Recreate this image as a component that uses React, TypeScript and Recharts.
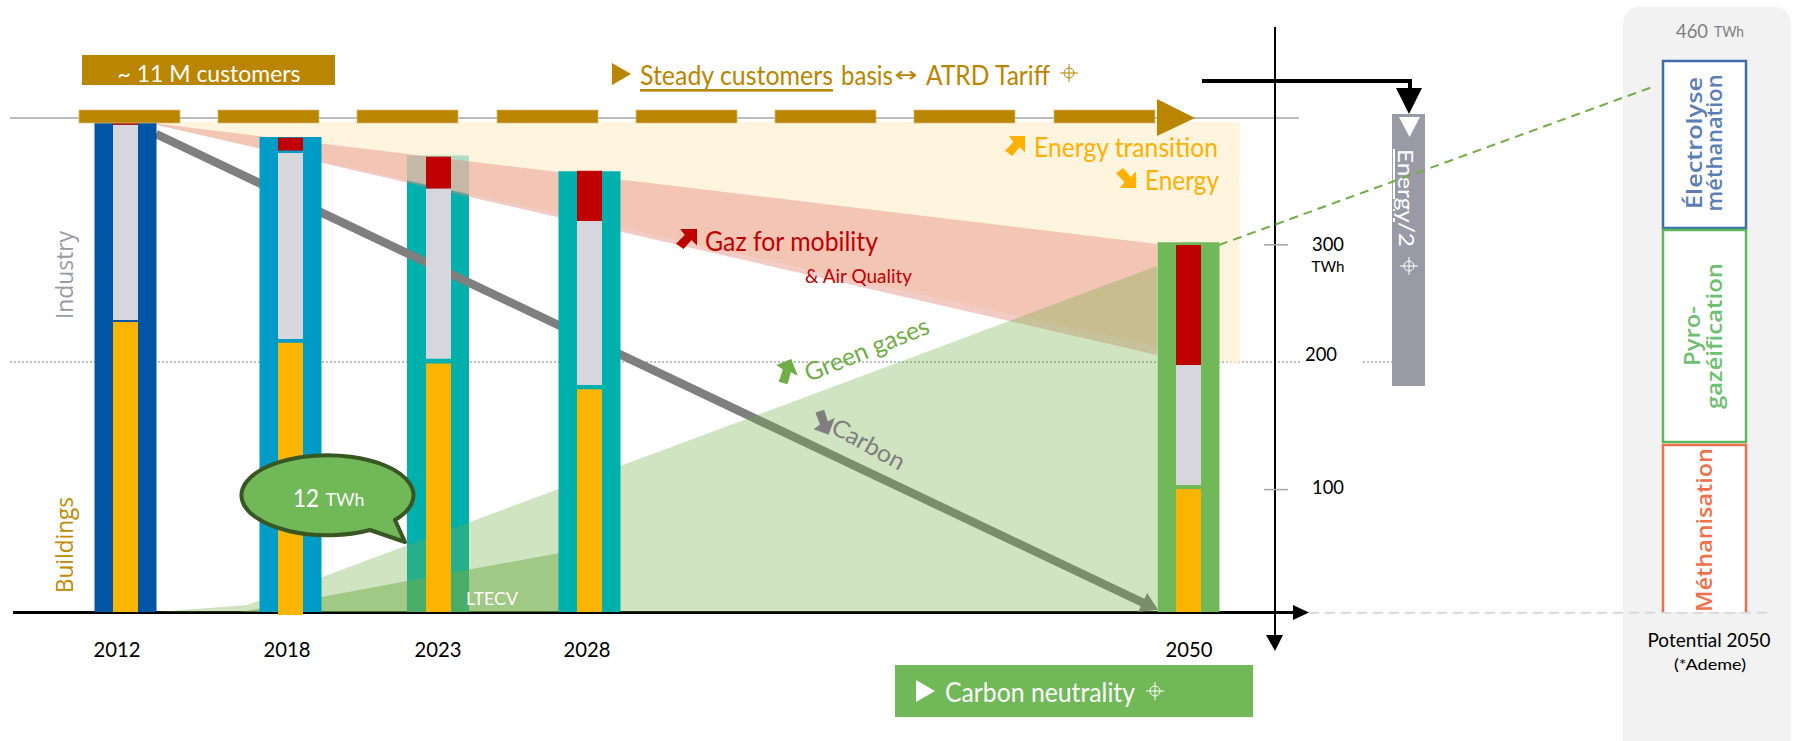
import React from "react";
import { ComposedChart, Bar, Area, Line, XAxis, YAxis, Cell } from "recharts";

// ---------- data (TWh) ----------
const years = [2012, 2018, 2023, 2028, 2050];
const outerTotal = [400, 388, 373, 360, 302];
const buildings = [237, 220, 203, 182, 100.5];
const lowGap = [1.6, 3, 4, 3.5, 3.3];
const industry = [159.5, 152, 139, 134, 98];
const highGap = [0, 2, 0, 0, 0];
const mobility = [2, 10.5, 26, 41, 98];
const overshoot = [0, -2.5, 0, 0, 0];

const creamYears = [2013.13, 2051.9];
const creamLow = [398, 202];
const creamHigh = [400.3, 400.3];

const salmonYears = [2013.13, 2048.86];
const salmonLow = [398, 210];
const salmonHigh = [399, 300.6];

const greenYears = [2013.13, 2016.44, 2048.86];
const greenHigh = [0, 5.7, 282.7];

const ltecvYears = [2016.18, 2027.3];
const ltecvHigh = [0, 49.5];

const carbonYears = [2013.13, 2048.6];
const carbonValues = [390.5, 4.9];

const yTicks = [100, 200, 300];

// ---------- colours ----------
const GOLD = "#BA8500";
const outerColors = ["#0055A4", "#009CC8", "#00B0AD", "#00B0AD", "#70B858"];
const GREEN = "#70AD47";
const BOX_GREEN = "#70B858";

// ---------- tables ----------
const barRows = years.map((year, i) => ({
  year,
  outer: outerTotal[i],
  buildings: buildings[i],
  lowGap: lowGap[i],
  industry: industry[i],
  highGap: highGap[i],
  mobility: mobility[i],
  overshoot: overshoot[i],
}));
const creamRows = creamYears.map((year, i) => ({ year, band: [creamLow[i], creamHigh[i]] }));
const salmonRows = salmonYears.map((year, i) => ({ year, band: [salmonLow[i], salmonHigh[i]] }));
const greenRows = greenYears.map((year, i) => ({ year, band: [0, greenHigh[i]] }));
const ltecvRows = ltecvYears.map((year, i) => ({ year, band: [0, ltecvHigh[i]] }));
const carbonRows = carbonYears.map((year, i) => ({ year, carbon: carbonValues[i] }));

// The years are not evenly spaced on the source's axis: piecewise scale.
const knotYears = [2012, 2018, 2023, 2028, 2050];
const knotPixels = [125, 290, 438, 589, 1188];
function yearScale(): any {
  let d: number[] = [2008, 2055];
  let r: number[] = [0, 1275];
  const f: any = (v: number) => {
    let i = 0;
    while (i < knotYears.length - 2 && v > knotYears[i + 1]) i++;
    const t = (v - knotYears[i]) / (knotYears[i + 1] - knotYears[i]);
    return knotPixels[i] + t * (knotPixels[i + 1] - knotPixels[i]);
  };
  f.domain = (x?: number[]) => {
    if (x) {
      d = x;
      return f;
    }
    return d;
  };
  f.range = (x?: number[]) => {
    if (x) {
      r = x;
      return f;
    }
    return r;
  };
  f.copy = () => yearScale();
  f.ticks = () => years;
  return f;
}

const FONT = "Lato, 'Open Sans', sans-serif";
const xNudge: Record<number, number> = { 2012: -8, 2018: -3, 2023: 0, 2028: -2, 2050: 1 };
const yNudge: Record<number, number> = { 300: -2, 200: -14, 100: -4 };

const XTick = (p: any) => (
  <text
    x={p.x + (xNudge[p.payload.value] || 0)}
    y={p.y + 24.5}
    textAnchor="middle"
    dominantBaseline="central"
    fontFamily={FONT}
    fontSize={21}
    fill="#000"
    textLength={47}
    lengthAdjust="spacingAndGlyphs"
  >
    {p.payload.value}
  </text>
);

const YTick = (p: any) => {
  const v = p.payload.value;
  const lab = v === 200 ? 46 : 53;
  return (
    <g>
      {v !== 200 && <line x1={p.x - 11} x2={p.x + 13} y1={p.y} y2={p.y} stroke="#A6A6A6" strokeWidth={1.5} />}
      <text
        x={p.x + lab}
        y={p.y + yNudge[v]}
        textAnchor="middle"
        dominantBaseline="central"
        fontFamily={FONT}
        fontSize={20}
        fill="#000"
        textLength={32}
        lengthAdjust="spacingAndGlyphs"
      >
        {v}
      </text>
      {v === 300 && (
        <text
          x={p.x + 53}
          y={p.y + 21}
          textAnchor="middle"
          dominantBaseline="central"
          fontFamily={FONT}
          fontSize={16}
          fill="#000"
          textLength={33}
          lengthAdjust="spacingAndGlyphs"
        >
          TWh
        </text>
      )}
    </g>
  );
};

const Layer = ({ data, axes, children }: any) => (
  <div style={{ position: "absolute", left: 0, top: 0 }}>
    <ComposedChart
      width={1798}
      height={741}
      data={data}
      margin={{ top: 0, right: 0, bottom: 0, left: 0 }}
      stackOffset="sign"
    >
      <XAxis
        xAxisId={0}
        type="number"
        dataKey="year"
        domain={[2008, 2055]}
        scale={yearScale()}
        ticks={years}
        interval={0}
        height={116.76}
        axisLine={false}
        tickLine={false}
        tickSize={0}
        tickMargin={0}
        tick={axes ? XTick : false}
      />
      <YAxis
        yAxisId={0}
        type="number"
        orientation="right"
        domain={[-10, 500]}
        ticks={yTicks}
        interval={0}
        width={523}
        axisLine={false}
        tickLine={false}
        tickSize={0}
        tickMargin={0}
        tick={axes ? YTick : false}
      />
      {children}
    </ComposedChart>
  </div>
);

const CarbonHead = (p: any) => {
  if (p.index !== 1) return <g key={p.index} />;
  const u = [0.903, 0.429];
  const n = [-0.429, 0.903];
  const tip = [p.cx + 9 * u[0], p.cy + 9 * u[1]];
  const bx = p.cx - 8 * u[0];
  const by = p.cy - 8 * u[1];
  const pts = [tip, [bx + 10.5 * n[0], by + 10.5 * n[1]], [bx - 10.5 * n[0], by - 10.5 * n[1]]];
  return <polygon key={p.index} points={pts.map((q) => q.join(",")).join(" ")} fill="#7F7F7F" />;
};

// ---------- annotation helpers ----------
const T = ({ x, y, size, fill, anchor = "middle", rotate, len, family = FONT, weight, underline, children }: any) => (
  <text
    x={x}
    y={y}
    fontSize={size}
    fill={fill}
    textAnchor={anchor}
    dominantBaseline="central"
    fontFamily={family}
    fontWeight={weight}
    textDecoration={underline ? "underline" : undefined}
    transform={rotate ? `rotate(${rotate} ${x} ${y})` : undefined}
    textLength={len}
    lengthAdjust={len ? "spacingAndGlyphs" : undefined}
  >
    {children}
  </text>
);

const Cross = ({ x, y, color, r = 5 }: any) => (
  <g stroke={color} strokeWidth={1} fill="none">
    <circle cx={x} cy={y} r={r} />
    <line x1={x - r - 4} x2={x + r + 4} y1={y} y2={y} />
    <line x1={x} x2={x} y1={y - r - 4} y2={y + r + 4} />
  </g>
);

const upRight = [
  [0.2, 0],
  [1, 0],
  [1, 0.82],
  [0.74, 0.55],
  [0.36, 1],
  [0, 0.74],
  [0.42, 0.3],
];
const Icon = ({ x, y, w, h, fill, flip, rotate }: any) => {
  const pts = upRight.map(([a, b]) => `${x + a * w},${y + (flip ? 1 - b : b) * h}`).join(" ");
  return (
    <polygon
      points={pts}
      fill={fill}
      transform={rotate ? `rotate(${rotate} ${x + w / 2} ${y + h / 2})` : undefined}
    />
  );
};

const Svg = ({ children }: any) => (
  <svg width={1798} height={741} style={{ position: "absolute", left: 0, top: 0, pointerEvents: "none" }}>
    {children}
  </svg>
);

const dashStarts = [79, 218, 357, 497, 636, 775, 914, 1054];

export default function App() {
  return (
    <div style={{ position: "absolute", left: 0, top: 0, width: 1798, height: 741, overflow: "hidden", background: "#fff" }}>
      {/* under everything */}
      <Svg>
        <rect x={1623} y={7} width={168} height={760} rx={16} fill="#F2F2F2" />
        <line x1={1309} x2={1768} y1={612.7} y2={612.7} stroke="#D9D9D9" strokeWidth={2} strokeDasharray="10 6" />
        <line x1={10} x2={1299} y1={118} y2={118} stroke="#A6A6A6" strokeWidth={1.5} />
        <line x1={10} x2={1300} y1={362} y2={362} stroke="#7F7F7F" strokeWidth={1} strokeDasharray="2 2" />
        <line x1={1363} x2={1392} y1={362} y2={362} stroke="#7F7F7F" strokeWidth={1} strokeDasharray="2 2" />
        <line x1={13} x2={1295} y1={612.5} y2={612.5} stroke="#000" strokeWidth={3} />
        <polygon points="1293,605 1309,612.5 1293,620" fill="#000" />
        <line x1={1275} x2={1275} y1={27} y2={640} stroke="#000" strokeWidth={2} />
        <polygon points="1266,635 1283,635 1275,651" fill="#000" />
      </Svg>

      {/* 2023 column sits behind the wedges */}
      <Layer data={barRows.filter((r) => r.year === 2023)} axes>
        <Bar dataKey="outer" barSize={62} fill="#00B0AD" isAnimationActive={false} />
      </Layer>
      <Layer data={creamRows}>
        <Area dataKey="band" type="linear" stroke="none" fill="#FFEFCF" fillOpacity={0.69} isAnimationActive={false} dot={false} activeDot={false} />
      </Layer>
      <Layer data={salmonRows}>
        <Area dataKey="band" type="linear" stroke="none" fill="#E28C81" fillOpacity={0.45} isAnimationActive={false} dot={false} activeDot={false} />
      </Layer>
      <Layer data={carbonRows}>
        <Line dataKey="carbon" type="linear" stroke="#7F7F7F" strokeWidth={8.5} dot={CarbonHead} activeDot={false} isAnimationActive={false} />
      </Layer>
      <Layer data={greenRows}>
        <Area dataKey="band" type="linear" stroke="none" fill={GREEN} fillOpacity={0.33} isAnimationActive={false} dot={false} activeDot={false} />
      </Layer>
      <Layer data={ltecvRows}>
        <Area dataKey="band" type="linear" stroke="none" fill={GREEN} fillOpacity={0.5} isAnimationActive={false} dot={false} activeDot={false} />
      </Layer>

      {/* the other columns */}
      <Layer data={barRows.filter((r) => r.year !== 2023)}>
        <Bar dataKey="outer" barSize={62} isAnimationActive={false}>
          {years
            .filter((y) => y !== 2023)
            .map((y) => (
              <Cell key={y} fill={outerColors[years.indexOf(y)]} />
            ))}
        </Bar>
      </Layer>
      <Layer data={barRows}>
        <Bar dataKey="overshoot" stackId="s" barSize={25} fill="#FBB400" isAnimationActive={false} />
        <Bar dataKey="buildings" stackId="s" barSize={25} fill="#FBB400" isAnimationActive={false} />
        <Bar dataKey="lowGap" stackId="s" barSize={25} fill="transparent" isAnimationActive={false} />
        <Bar dataKey="industry" stackId="s" barSize={25} fill="#D6D6DC" isAnimationActive={false} />
        <Bar dataKey="highGap" stackId="s" barSize={25} fill="transparent" isAnimationActive={false} />
        <Bar dataKey="mobility" stackId="s" barSize={25} fill="#C00000" isAnimationActive={false} />
      </Layer>

      {/* annotations */}
      <Svg>
        {/* gold dashed line and head */}
        {dashStarts.map((x) => (
          <rect key={x} x={x} y={110} width={101} height={13} fill={GOLD} stroke="#D8BC78" strokeWidth={0.7} />
        ))}
        <polygon points="1157,99 1195,118 1157,136" fill={GOLD} />

        {/* customers */}
        <rect x={82} y={55} width={253} height={30} fill={GOLD} />
        <T x={209} y={72} size={24} fill="#fff" len={183}>~ 11 M customers</T>

        <polygon points="612,63 631,74 612,85" fill={GOLD} />
        <T x={640} y={75} size={26} fill={GOLD} anchor="start" len={193} underline>Steady customers</T>
        <T x={841} y={75} size={26} fill={GOLD} anchor="start" len={52}>basis</T>
        <T x={906} y={75} size={21} fill={GOLD} family="'DejaVu Sans'" len={23}>↔</T>
        <T x={926} y={75} size={26} fill={GOLD} anchor="start" len={124}>ATRD Tariff</T>
        <Cross x={1069} y={73} color={GOLD} />

        {/* wedge captions */}
        <Icon x={1005} y={136} w={20} h={20} fill="#FFB000" />
        <T x={1034} y={147} size={26} fill="#FFB000" anchor="start" len={184}>Energy transition</T>
        <Icon x={1116} y={168} w={20} h={20} fill="#FFB000" flip />
        <T x={1145} y={180} size={26} fill="#FFB000" anchor="start" len={74}>Energy</T>

        <Icon x={676} y={229} w={21} h={20} fill="#C00000" />
        <T x={705} y={241} size={26} fill="#C00000" anchor="start" len={173}>Gaz for mobility</T>
        <T x={805} y={275} size={19} fill="#C00000" anchor="start" len={107}>&amp; Air Quality</T>

        <Icon x={776} y={362} w={20} h={22} fill={GREEN} rotate={-22} />
        <T x={805} y={373} size={25} fill={GREEN} anchor="start" rotate={-22} len={132}>Green gases</T>
        <Icon x={813} y={410} w={20} h={22} fill="#7F7F7F" flip rotate={20} />
        <T x={834} y={424} size={24} fill="#7F7F7F" anchor="start" rotate={29} len={80}>Carbon</T>

        {/* side captions */}
        <T x={64} y={275} size={23} fill="#9999A5" rotate={-90} len={88} family="'Open Sans'">Industry</T>
        <T x={64} y={545} size={23} fill="#C08A00" rotate={-90} len={96} family="'Open Sans'">Buildings</T>
        <T x={492} y={598} size={18} fill="#fff" len={52}>LTECV</T>

        {/* bubble */}
        <path
          d="M370,530 L405,542 L395,520 A86 40 0 1 0 370,530 Z"
          fill={BOX_GREEN}
          stroke="#385723"
          strokeWidth={4}
          strokeLinejoin="round"
        />
        <T x={306} y={497} size={25} fill="#fff" len={26}>12</T>
        <T x={345} y={499} size={18} fill="#fff" len={39}>TWh</T>

        {/* carbon neutrality */}
        <rect x={895} y={665} width={358} height={52} fill={BOX_GREEN} />
        <polygon points="916,680 935,691 916,702" fill="#fff" />
        <T x={945} y={692} size={26} fill="#fff" anchor="start" len={190}>Carbon neutrality</T>
        <Cross x={1155} y={691} color="#fff" />

        {/* energy / 2 */}
        <rect x={1392} y={114} width={33} height={272} fill="#9A9AA6" />
        <polygon points="1399,117 1420,117 1409.5,137" fill="#fff" />
        <text
          x={1407}
          y={149}
          fontFamily={FONT}
          fontSize={21}
          fill="#fff"
          dominantBaseline="central"
          transform="rotate(90 1407 149)"
          textLength={98}
          lengthAdjust="spacingAndGlyphs"
        >
          <tspan textDecoration="underline">Energy</tspan>/2
        </text>
        <Cross x={1409} y={266} color="#fff" />
        <path d="M1202,81 H1410 V92" fill="none" stroke="#000" strokeWidth={4} />
        <polygon points="1396,88 1422,88 1409,114" fill="#000" />

        {/* potential panel */}
        <T x={1692} y={30} size={20} fill="#7F7F7F" len={32}>460</T>
        <T x={1729} y={31} size={15} fill="#7F7F7F" len={30}>TWh</T>

        <rect x={1663} y={61} width={83} height={167} fill="#fff" stroke="#3E6EA8" strokeWidth={2.5} />
        <rect x={1663} y={230} width={83} height={212} fill="#fff" stroke="#5DB85D" strokeWidth={2.5} />
        <path d="M1663,612 V445 H1746 V612" fill="#fff" stroke="#F0704A" strokeWidth={2.5} />

        <T x={1694} y={143} size={21} fill="#5B7FB5" rotate={-90} family="'Open Sans'" weight={600} len={132}>Électrolyse</T>
        <T x={1714} y={143} size={21} fill="#5B7FB5" rotate={-90} family="'Open Sans'" weight={600} len={137}>méthanation</T>
        <T x={1692} y={336} size={21} fill="#6CC070" rotate={-90} family="'Open Sans'" weight={600} len={60}>Pyro-</T>
        <T x={1714} y={336} size={21} fill="#6CC070" rotate={-90} family="'Open Sans'" weight={600} len={146}>gazéification</T>
        <T x={1703} y={530} size={22} fill="#F0704A" rotate={-90} family="'Open Sans'" weight={600} len={164}>Méthanisation</T>

        <T x={1709} y={639} size={20} fill="#000" len={123}>Potential 2050</T>
        <T x={1710} y={663} size={16} fill="#000" len={72}>(*Ademe)</T>

        {/* dashed link to the potential */}
        <line x1={1219} y1={245} x2={1655} y2={86} stroke={GREEN} strokeWidth={2} strokeDasharray="9 6" />
      </Svg>
    </div>
  );
}
